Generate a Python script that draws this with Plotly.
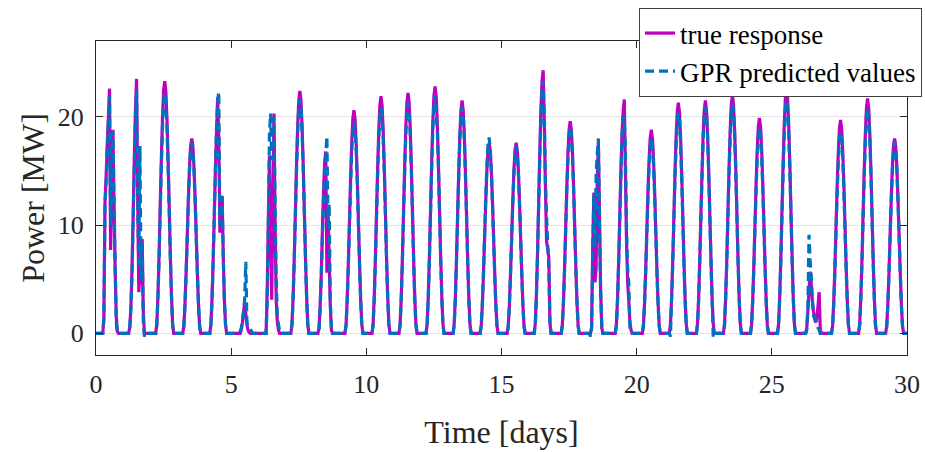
import numpy as np
import plotly.graph_objects as go

# Hourly PV output for 30 days; each row holds hours 6..20 of one day (MW).
# Night hours outside this window are zero.
day_hours = [6, 7, 8, 9, 10, 11, 12, 13, 14, 15, 16, 17, 18, 19, 20]

true_mw = [
    [0, 1.5, 12.1, 14.5, 17.5, 20.0, 22.6, 7.7, 14.0, 18.8, 12.0, 6.0, 1.5, 0.2, 0],
    [0.6, 2.5, 6.0, 11.0, 16.0, 20.5, 23.5, 13.0, 3.8, 5.5, 4.5, 8.7, 2.0, 0, 0],
    [0.9, 3.5, 7.2, 11.7, 16.1, 19.8, 22.4, 23.3, 22.4, 19.8, 16.1, 11.7, 7.2, 3.5, 0.9],
    [0.7, 2.7, 5.6, 9.0, 12.4, 15.3, 17.3, 18.0, 17.3, 15.3, 12.4, 9.0, 5.6, 2.7, 0.7],
    [0.8, 3.2, 6.7, 10.8, 15.0, 18.5, 21.8, 18.0, 9.3, 11.0, 12.7, 7.0, 3.0, 0.8, 0],
    [0, 0, 0, 0.3, 1.0, 2.0, 2.8, 1.8, 0.8, 0.3, 0.1, 0, 0, 0, 0],
    [0, 0, 4.0, 10.5, 16.4, 9.0, 3.1, 12.0, 20.3, 10.0, 3.0, 1.0, 0.3, 0, 0],
    [0.9, 3.4, 6.9, 11.2, 15.5, 19.0, 21.5, 22.4, 21.5, 19.0, 15.5, 11.2, 6.9, 3.4, 0.9],
    [0.5, 2.5, 5.5, 9.5, 13.0, 15.8, 16.8, 5.6, 11.4, 7.0, 2.5, 0.3, 0, 0, 0],
    [0.8, 3.1, 6.4, 10.3, 14.2, 17.5, 19.8, 20.6, 19.8, 17.5, 14.2, 10.3, 6.4, 3.1, 0.8],
    [0.9, 3.3, 6.8, 11.0, 15.1, 18.6, 21.0, 21.9, 21.0, 18.6, 15.1, 11.0, 6.8, 3.3, 0.9],
    [0.9, 3.3, 6.9, 11.1, 15.3, 18.9, 21.3, 22.2, 21.3, 18.9, 15.3, 11.1, 6.9, 3.3, 0.9],
    [0.9, 3.4, 7.1, 11.4, 15.7, 19.4, 21.9, 22.8, 21.9, 19.4, 15.7, 11.4, 7.1, 3.4, 0.9],
    [0.9, 3.2, 6.7, 10.8, 14.8, 18.3, 20.6, 21.5, 20.6, 18.3, 14.8, 10.8, 6.7, 3.2, 0.9],
    [0.7, 2.6, 5.5, 8.8, 12.1, 15.0, 16.9, 17.6, 16.9, 15.0, 12.1, 8.8, 5.5, 2.6, 0.7],
    [0.7, 2.6, 5.5, 8.8, 12.1, 15.0, 16.9, 17.6, 16.9, 15.0, 12.1, 8.8, 5.5, 2.6, 0.7],
    [0.9, 3.6, 7.5, 12.2, 16.8, 20.7, 23.3, 24.3, 19.5, 13.5, 8.5, 7.8, 7.0, 1.0, 0],
    [0.8, 2.9, 6.1, 9.8, 13.5, 16.7, 18.8, 19.6, 18.8, 16.7, 13.5, 9.8, 6.1, 2.9, 0.8],
    [0, 0, 0.5, 8.0, 13.0, 4.7, 6.0, 14.0, 17.6, 11.0, 4.0, 0.5, 0, 0, 0],
    [0.8, 3.2, 6.6, 10.8, 15.0, 18.5, 20.5, 21.6, 15.0, 8.4, 4.7, 3.0, 1.0, 0.3, 0],
    [0.8, 2.8, 5.8, 9.4, 13.0, 16.0, 18.0, 18.8, 18.0, 16.0, 13.0, 9.4, 5.8, 2.8, 0.8],
    [0.9, 3.2, 6.6, 10.7, 14.7, 18.1, 20.4, 21.3, 20.4, 18.1, 14.7, 10.7, 6.6, 3.2, 0.9],
    [0.9, 3.2, 6.7, 10.8, 14.8, 18.3, 20.6, 21.5, 20.6, 18.3, 14.8, 10.8, 6.7, 3.2, 0.9],
    [0.9, 3.3, 6.8, 11.0, 15.2, 18.7, 21.1, 22.0, 21.1, 18.7, 15.2, 11.0, 6.8, 3.3, 0.9],
    [0.8, 3.0, 6.2, 10.0, 13.7, 16.9, 19.1, 19.9, 19.1, 16.9, 13.7, 10.0, 6.2, 3.0, 0.8],
    [0.9, 3.4, 7.0, 11.3, 15.6, 19.2, 21.7, 22.6, 21.7, 19.2, 15.6, 11.3, 7.0, 3.4, 0.9],
    [0, 0.5, 2.0, 4.0, 5.7, 4.5, 3.0, 2.0, 1.3, 1.0, 1.5, 2.5, 3.8, 0.3, 0],
    [0.8, 3.0, 6.1, 9.9, 13.6, 16.7, 18.9, 19.7, 18.9, 16.7, 13.6, 9.9, 6.1, 3.0, 0.8],
    [0.9, 3.3, 6.7, 10.9, 15.0, 18.4, 20.8, 21.7, 20.8, 18.4, 15.0, 10.9, 6.7, 3.3, 0.9],
    [0.7, 2.7, 5.6, 9.0, 12.4, 15.3, 17.3, 18.0, 17.3, 15.3, 12.4, 9.0, 5.6, 2.7, 0.7],
]

gpr_mw = [
    [0, 1.2, 12.0, 14.0, 17.0, 19.5, 21.9, 10.0, 15.0, 18.7, 12.5, 6.0, 1.0, 0, 0],
    [0.5, 2.3, 5.6, 10.5, 15.5, 20.0, 22.5, 12.0, 6.0, 17.3, 5.0, 8.5, 1.0, -0.3, 0],
    [0.8, 3.3, 6.9, 11.1, 15.3, 18.9, 21.3, 22.2, 21.5, 19.1, 15.5, 11.3, 7.0, 3.4, 0.8],
    [0.6, 2.6, 5.5, 8.8, 12.1, 15.0, 16.9, 17.6, 17.0, 15.1, 12.3, 8.9, 5.5, 2.6, 0.6],
    [0.7, 3.0, 6.5, 10.8, 15.2, 19.0, 21.5, 22.3, 10.0, 12.6, 12.5, 7.0, 3.0, 0.8, 0],
    [0, 0, 0.2, 0.5, 1.2, 2.0, 3.2, 6.6, 1.0, 0.6, 0.5, 0.4, 0.2, 0, 0],
    [0, 0, 3.0, 10.0, 18.5, 20.3, 16.0, 19.5, 20.0, 12.0, 5.0, 1.5, 0.8, 0.3, 0],
    [0.8, 3.2, 6.7, 10.8, 14.9, 18.4, 20.7, 21.6, 20.9, 18.5, 15.1, 11.0, 6.8, 3.3, 0.8],
    [0.4, 2.3, 5.2, 9.0, 12.5, 15.3, 16.5, 18.2, 10.0, 12.0, 3.0, 0.5, 0, 0, 0],
    [0.7, 2.9, 6.1, 9.8, 13.5, 16.7, 18.8, 19.6, 19.0, 16.9, 13.7, 10.0, 6.2, 3.0, 0.7],
    [0.7, 3.1, 6.4, 10.4, 14.4, 17.7, 20.0, 20.8, 20.2, 17.9, 14.6, 10.6, 6.5, 3.2, 0.7],
    [0.8, 3.2, 6.6, 10.7, 14.7, 18.1, 20.4, 21.3, 20.6, 18.3, 14.9, 10.8, 6.7, 3.2, 0.8],
    [0.8, 3.3, 6.8, 11.0, 15.2, 18.7, 21.1, 22.0, 20.0, 18.9, 15.4, 11.1, 6.9, 3.3, 0.8],
    [0.7, 3.1, 6.5, 10.5, 14.4, 17.8, 20.1, 20.9, 20.2, 18.0, 14.6, 10.6, 6.6, 3.1, 0.7],
    [0.7, 2.7, 5.6, 9.1, 12.5, 15.4, 17.4, 18.1, 17.0, 14.9, 12.0, 8.7, 5.4, 2.5, 0.6],
    [0.6, 2.6, 5.4, 8.7, 11.9, 14.7, 16.6, 17.3, 16.7, 14.8, 12.0, 8.8, 5.4, 2.6, 0.6],
    [0.8, 3.4, 7.2, 11.7, 16.1, 19.8, 22.4, 23.3, 20.0, 14.0, 10.8, 8.4, 6.0, 1.0, 0],
    [0.7, 2.9, 5.9, 9.6, 13.2, 16.2, 18.3, 19.1, 18.5, 16.4, 13.4, 9.7, 6.0, 2.9, 0.7],
    [0, -0.3, 0.5, 7.5, 12.8, 8.0, 14.8, 16.5, 18.0, 10.0, 4.0, 0.8, 0, 0, 0],
    [0.7, 3.0, 6.4, 10.4, 14.5, 18.0, 20.0, 19.9, 17.0, 9.6, 6.0, 4.7, 0.5, 0, 0],
    [0.6, 2.7, 5.6, 9.0, 12.4, 15.3, 17.3, 18.0, 17.4, 15.5, 12.6, 9.1, 5.6, 2.7, 0.6],
    [-0.3, 3.1, 6.3, 10.2, 14.1, 17.3, 19.6, 20.4, 19.8, 17.5, 14.3, 10.4, 6.4, 3.1, 0.7],
    [0.7, 3.1, 6.5, 10.5, 14.4, 17.8, 20.1, 20.9, 20.3, 18.0, 14.6, 10.6, 6.6, 3.0, -0.4],
    [0.7, 3.2, 6.6, 10.6, 14.6, 18.0, 20.4, 21.2, 20.5, 18.2, 14.8, 10.8, 6.7, 3.2, 0.7],
    [0.7, 2.9, 5.9, 9.5, 13.1, 16.2, 18.2, 19.0, 18.4, 16.3, 13.3, 9.6, 6.0, 2.9, 0.7],
    [0.8, 3.2, 6.7, 10.8, 14.8, 18.3, 20.6, 21.5, 20.9, 18.5, 15.0, 10.9, 6.8, 3.3, 0.8],
    [0, 0.3, 2.5, 9.1, 6.7, 5.3, 3.0, 1.6, 1.6, 1.2, 0.8, 0.5, 0.3, 0, 0],
    [0.7, 2.8, 5.8, 9.3, 12.8, 15.8, 17.9, 18.6, 18.1, 16.0, 13.0, 9.4, 5.9, 2.8, 0.7],
    [0.7, 3.1, 6.4, 10.4, 14.4, 17.7, 20.0, 20.8, 20.2, 17.9, 14.6, 10.6, 6.5, 3.2, 0.7],
    [0.6, 2.7, 5.5, 8.9, 12.2, 15.0, 17.0, 17.7, 17.1, 15.2, 12.3, 9.0, 5.6, 2.6, 0.6],
]

x_ticks = [0, 5, 10, 15, 20, 25, 30]
y_ticks = [0, 10, 20]

n_days = len(true_mw)


def hourly_series(rows):
    """Expand per-day daylight rows into a continuous hourly series."""
    series = np.zeros(n_days * 24 + 1)
    for d, row in enumerate(rows):
        idx = [d * 24 + h for h in day_hours]
        series[idx] = row
    return series


t_days = np.arange(n_days * 24 + 1) / 24.0
y_true = hourly_series(true_mw)
y_gpr = hourly_series(gpr_mw)

FONT = "'Liberation Serif', 'DejaVu Serif', serif"
AX = "#262626"

fig = go.Figure()
fig.add_trace(go.Scatter(
    x=t_days, y=y_true, mode="lines", name="true response",
    line=dict(color="#BF00BF", width=3.2, simplify=False),
))
fig.add_trace(go.Scatter(
    x=t_days, y=y_gpr, mode="lines", name="GPR predicted values",
    line=dict(color="#0072BD", width=3.2, dash="9px,5px", simplify=False),
))

fig.update_layout(
    width=925, height=452,
    margin=dict(l=96, r=18, t=41, b=97, autoexpand=False),
    paper_bgcolor="white", plot_bgcolor="white",
    font=dict(family=FONT, color=AX, size=24),
    showlegend=True,
    legend=dict(
        x=1.0185, y=1.105, xanchor="right", yanchor="top",
        bgcolor="white", bordercolor="#404040", borderwidth=1,
        font=dict(family=FONT, size=27, color="black"),
        itemwidth=30, tracegroupgap=0,
    ),
)

fig.update_xaxes(
    range=[0, 30], tickvals=x_ticks, ticktext=[str(v) for v in x_ticks],
    showgrid=False, zeroline=False, automargin=False,
    showline=True, linecolor=AX, linewidth=1, mirror="ticks",
    ticks="inside", ticklen=7, tickcolor=AX, tickwidth=1,
    tickfont=dict(family=FONT, size=26, color=AX),
    ticklabelstandoff=6,
    title=dict(text="Time [days]", font=dict(family=FONT, size=32, color=AX), standoff=22),
)
fig.update_yaxes(
    range=[-2, 27], tickvals=y_ticks, ticktext=[str(v) for v in y_ticks],
    showgrid=True, gridcolor="#E3E3E3", gridwidth=1, zeroline=False, automargin=False,
    showline=True, linecolor=AX, linewidth=1, mirror="ticks",
    ticks="inside", ticklen=7, tickcolor=AX, tickwidth=1,
    tickfont=dict(family=FONT, size=26, color=AX),
    ticklabelstandoff=6,
    title=dict(text="Power [MW]", font=dict(family=FONT, size=32, color=AX), standoff=3),
)

fig.write_html("out.html")
